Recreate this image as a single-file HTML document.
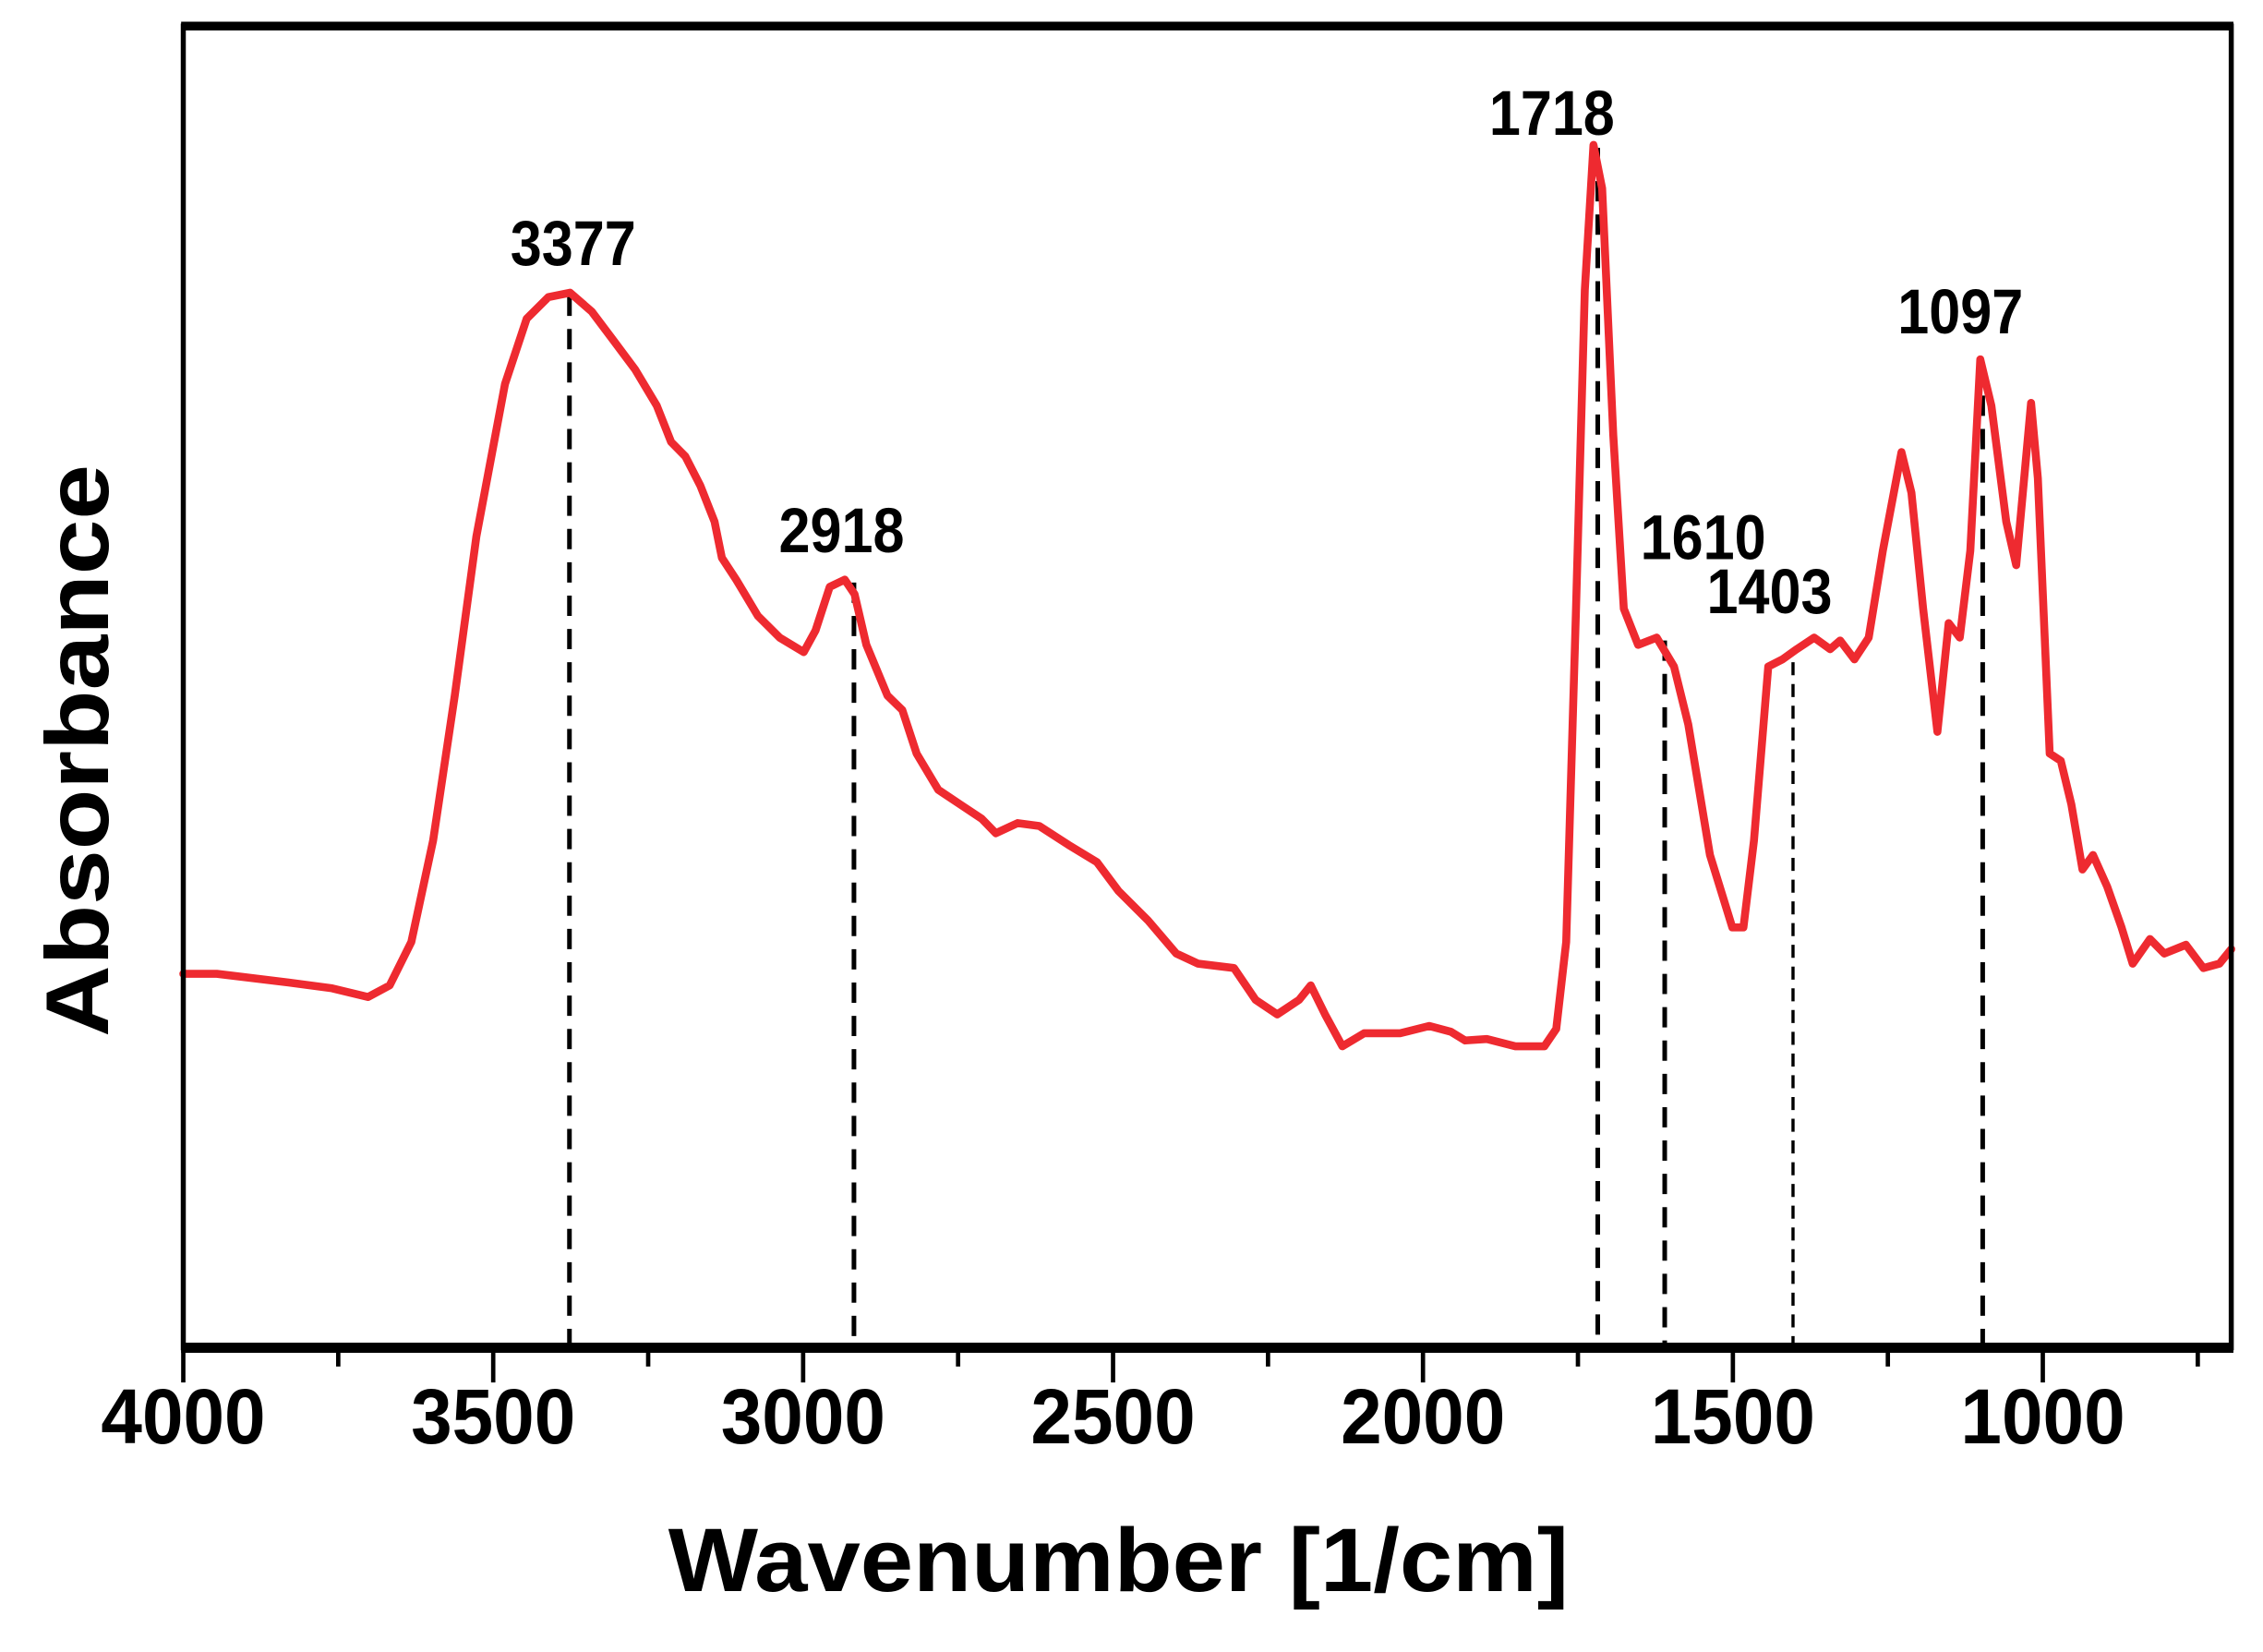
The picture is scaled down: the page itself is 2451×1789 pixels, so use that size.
<!DOCTYPE html>
<html><head><meta charset="utf-8"><style>html,body{margin:0;padding:0;background:#fff}svg{display:block}</style></head>
<body>
<svg id="chart" width="2451" height="1789" viewBox="0 0 1568 1140" preserveAspectRatio="none" xmlns="http://www.w3.org/2000/svg" font-family="'Liberation Sans', sans-serif" font-weight="bold">
<rect width="1568" height="1140" fill="#fff"/>
<g id="marks"></g>
<g id="axes"></g>
</svg>
<script>
const wavenumbers=[4000,3946,3830,3760,3702,3667,3632,3597,3562,3527,3481,3446,3411,3376,3341,3306,3271,3236,3213,3190,3166,3143,3131,3108,3073,3038,2999,2980,2957,2933,2917,2898,2864,2840,2817,2782,2747,2712,2689,2654,2619,2572,2526,2491,2444,2398,2363,2305,2270,2235,2200,2181,2158,2130,2095,2037,1990,1955,1932,1897,1851,1804,1785,1769,1753,1739,1725,1711,1693,1676,1653,1623,1595,1572,1537,1501,1483,1466,1443,1420,1397,1369,1343,1327,1304,1281,1258,1228,1212,1193,1170,1152,1134,1117,1101,1083,1059,1043,1019,1008,989,971,954,936,919,896,873,855,827,804,769,741,715,696];
const absorbance=[25.8,25.8,25.2,24.8,24.2,25,28,35,45,56,66.5,71,72.5,72.8,71.5,69.5,67.5,65,62.5,61.5,59.5,57,54.5,53,50.5,49,48,49.5,52.5,53,52,48.5,45,44,41,38.5,37.5,36.5,35.5,36.2,36,34.7,33.5,31.5,29.5,27.2,26.5,26.2,24,23,24,25,23,20.8,21.7,21.7,22.2,21.8,21.2,21.3,20.8,20.8,22,28,51,73,83,80,63,51,48.5,49,47,43,34,29,29,35,47,47.5,48.2,49,48.2,48.8,47.5,49,55,61.8,59,51,42.5,50,49,55,68.2,65,57,54,65.2,60,41,40.5,37.5,33,34,31.8,29,26.5,28.2,27.2,27.8,26.2,26.5,27.5];
const xTicks=[4000,3500,3000,2500,2000,1500,1000];
const xMinor=[3750,3250,2750,2250,1750,1250,750];
const peakLabels=["3377","2918","1718","1610","1403","1097"];
const peakPositions=[3377,2918,1718,1610,1403,1097];
const peakTops=[72.8,53,83,49,47.5,68.2];
const labelCenters=[3371,2938,1792,1548,1441,1133];
const labelHeights=[74.5,54.7,83.5,54.2,50.5,69.8];

const L=127,R=1546,T=18,B=930;
const xs=w=>L+(4000-w)*(R-L)/(4000-696);
const ys=a=>B-a*10;
const NS="http://www.w3.org/2000/svg";
function mk(tag,attrs,parent,text){const e=document.createElementNS(NS,tag);for(const k in attrs)e.setAttribute(k,attrs[k]);if(text!==undefined)e.textContent=text;parent.appendChild(e);return e;}
const marks=document.getElementById('marks'),axes=document.getElementById('axes');

peakPositions.forEach((p,i)=>{
  const l=mk('line',{x1:xs(p),y1:ys(peakTops[i])+2,x2:xs(p),y2:B-2,stroke:'#000','stroke-width':i===4?2.2:3.2,'stroke-dasharray':i===4?'9 6':'14 9'},marks);
  
  
  const t=mk('text',{x:xs(labelCenters[i]),y:B-labelHeights[i]*10-2,'text-anchor':'middle','font-size':44,textLength:87,lengthAdjust:'spacingAndGlyphs',fill:'#000'},marks,peakLabels[i]);
  
  
});

const pts=wavenumbers.map((w,i)=>xs(w).toFixed(1)+','+ys(absorbance[i]).toFixed(1)).join(' ');
const line=mk('polyline',{points:pts,fill:'none',stroke:'#ee2a30','stroke-width':5.5,'stroke-linejoin':'round','stroke-linecap':'round'},marks);



const fr=mk('rect',{x:L,y:T,width:R-L,height:B-T,fill:'none',stroke:'#000','stroke-width':3.5},axes);


const tb=mk('line',{x1:L-1.5,y1:T,x2:R+1.5,y2:T,stroke:'#000','stroke-width':6},axes);


const xa=mk('line',{x1:L-1.5,y1:B,x2:R+1.5,y2:B,stroke:'#000','stroke-width':7},axes);



xTicks.forEach(v=>{
  const t=mk('line',{x1:xs(v),y1:B,x2:xs(v),y2:B+24,stroke:'#000','stroke-width':3},axes);
  
  
  const lb=mk('text',{x:xs(v),y:996,'text-anchor':'middle','font-size':54,textLength:114,lengthAdjust:'spacingAndGlyphs',fill:'#000'},axes,String(v));
  
  
});
xMinor.forEach(v=>{
  const t=mk('line',{x1:xs(v),y1:B,x2:xs(v),y2:B+13,stroke:'#000','stroke-width':3},axes);
  
  
});

const xt=mk('text',{x:775,y:1098,'text-anchor':'middle','font-size':62,textLength:624,lengthAdjust:'spacingAndGlyphs',fill:'#000'},axes,'Wavenumber [1/cm]');


const yt=mk('text',{x:0,y:0,transform:'translate(75,518) rotate(-90)','text-anchor':'middle','font-size':62,textLength:395,lengthAdjust:'spacingAndGlyphs',fill:'#000'},axes,'Absorbance');


</script>
</body></html>
